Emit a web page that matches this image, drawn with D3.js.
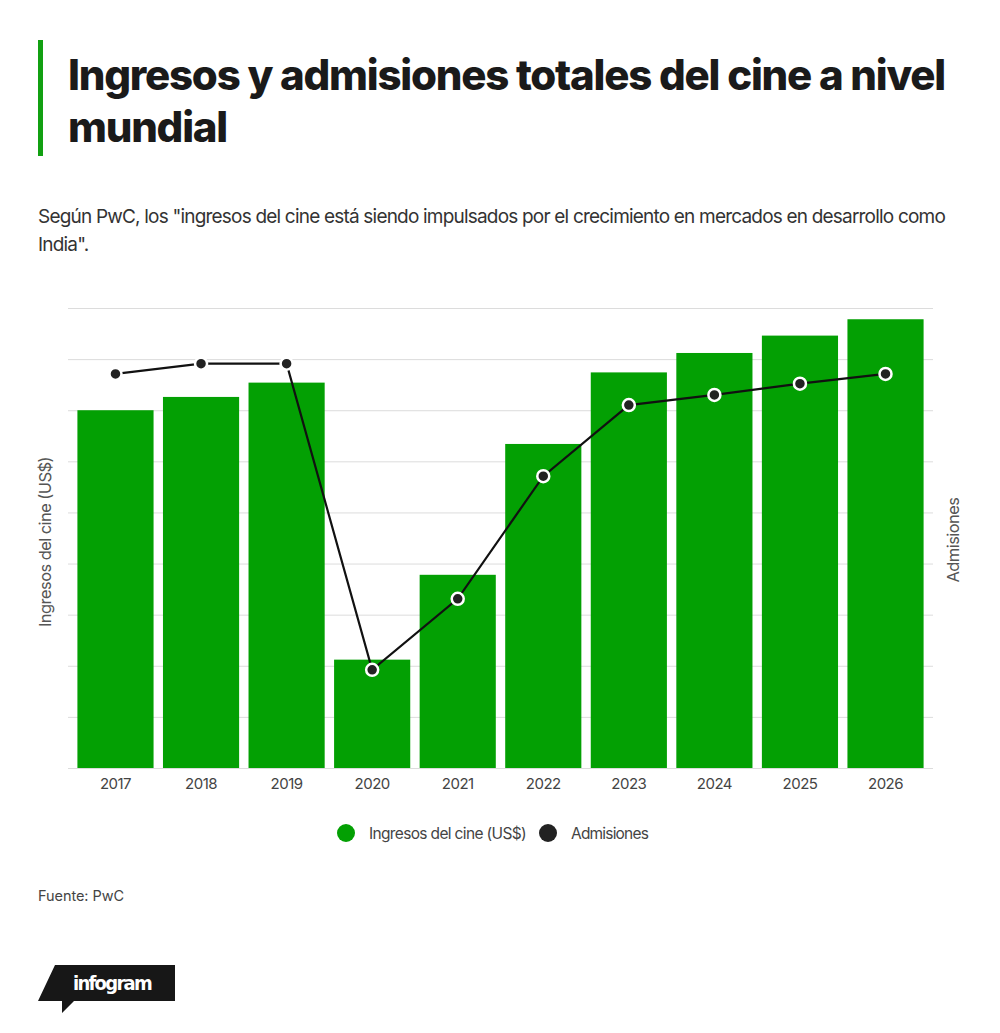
<!DOCTYPE html>
<html>
<head>
<meta charset="utf-8">
<script src="https://cdn.jsdelivr.net/npm/d3@7"></script>
<style>
  body { margin: 0; background: #fff; }
  svg { display: block; }
</style>
</head>
<body>
<script>
// chart data
const years = ["2017", "2018", "2019", "2020", "2021", "2022", "2023", "2024", "2025", "2026"];
const ingresos = [35.0, 36.3, 37.7, 10.6, 18.9, 31.7, 38.7, 40.6, 42.3, 43.9];
const admisiones = [7.71, 7.91, 7.91, 1.92, 3.31, 5.71, 7.10, 7.30, 7.52, 7.71];
const leftTicks = [0, 5, 10, 15, 20, 25, 30, 35, 40, 45];

const title = ["Ingresos y admisiones totales del cine a nivel", "mundial"];
const subtitle = ["Según PwC, los \"ingresos del cine está siendo impulsados por el crecimiento en mercados en desarrollo como", "India\"."];
const legendItems = ["Ingresos del cine (US$)", "Admisiones"];

const width = 1000, height = 1033;
const green = "#03a003", dark = "#222";
const font = "Inter, 'Noto Sans', sans-serif";

const svg = d3.select("body").append("svg")
    .attr("width", width)
    .attr("height", height)
    .attr("viewBox", [0, 0, width, height]);

// squeeze or widen a text to a target width with letter-spacing
function fit(sel, target) {
    let ls = 0;
    sel.each(function() {
        const w = this.getComputedTextLength();
        const n = this.textContent.length;
        ls = (target - w) / n;
        d3.select(this).attr("letter-spacing", ls);
    });
    return ls;
}

// header
svg.append("rect")
    .attr("x", 38).attr("y", 40)
    .attr("width", 5).attr("height", 116)
    .attr("fill", "#11a011");

const titleText = svg.append("g")
    .selectAll("text")
    .data(title)
    .join("text")
    .attr("x", 68)
    .attr("y", (d, i) => 90 + i * 52)
    .attr("font-family", font)
    .attr("font-weight", 800)
    .attr("font-size", 42)
    .attr("fill", "#1a1a1a")
    .text(d => d);
const titleLs = fit(titleText.filter((d, i) => i === 0), 877);
titleText.filter((d, i) => i === 1).attr("letter-spacing", titleLs);

const subText = svg.append("g")
    .selectAll("text")
    .data(subtitle)
    .join("text")
    .attr("x", 38)
    .attr("y", (d, i) => 223 + i * 28)
    .attr("font-family", font)
    .attr("font-size", 19)
    .attr("fill", "#333")
    .text(d => d);
const subLs = fit(subText.filter((d, i) => i === 0), 907);
subText.filter((d, i) => i === 1).attr("letter-spacing", subLs);

// scales
const x = d3.scaleBand()
    .domain(years)
    .range([68, 933])
    .padding(0.11);

const y = d3.scaleLinear()
    .domain([0, 45])
    .range([768, 308]);

const y2 = d3.scaleLinear()
    .domain([0, 9])
    .range([768, 308]);

// gridlines from the left axis, labels hidden
svg.append("g")
    .attr("transform", "translate(68,0)")
    .call(d3.axisLeft(y).tickValues(leftTicks).tickSize(-865).tickFormat(""))
    .call(g => g.select(".domain").remove())
    .call(g => g.selectAll(".tick line").attr("stroke", "#dcdcdc"));

// bars
svg.append("g")
    .attr("fill", green)
    .selectAll("rect")
    .data(years)
    .join("rect")
    .attr("x", d => x(d))
    .attr("y", (d, i) => y(ingresos[i]))
    .attr("width", x.bandwidth())
    .attr("height", (d, i) => y(0) - y(ingresos[i]));

// x axis
svg.append("g")
    .attr("transform", "translate(0,768)")
    .call(d3.axisBottom(x).tickSize(0).tickPadding(10))
    .call(g => g.select(".domain").remove())
    .call(g => g.selectAll("text")
        .attr("font-family", font)
        .attr("font-size", 15)
        .attr("letter-spacing", -0.5)
        .attr("fill", "#444")
        .attr("dy", "0.71em"));

// admissions line
const line = d3.line()
    .x((d, i) => x(years[i]) + x.bandwidth() / 2)
    .y(d => y2(d));

svg.append("path")
    .datum(admisiones)
    .attr("fill", "none")
    .attr("stroke", "#111")
    .attr("stroke-width", 2.2)
    .attr("d", line);

svg.append("g")
    .selectAll("circle")
    .data(admisiones)
    .join("circle")
    .attr("cx", (d, i) => x(years[i]) + x.bandwidth() / 2)
    .attr("cy", d => y2(d))
    .attr("r", 6)
    .attr("fill", dark)
    .attr("stroke", "#fff")
    .attr("stroke-width", 2.5);

// axis titles
svg.append("text")
    .attr("transform", "translate(51,542) rotate(-90)")
    .attr("text-anchor", "middle")
    .attr("font-family", font)
    .attr("font-size", 16.5)
    .attr("fill", "#555")
    .text(legendItems[0])
    .call(s => fit(s, 170));

svg.append("text")
    .attr("transform", "translate(959,540) rotate(-90)")
    .attr("text-anchor", "middle")
    .attr("font-family", font)
    .attr("font-size", 16.5)
    .attr("fill", "#555")
    .text(legendItems[1])
    .call(s => fit(s, 85));

// legend
const legendX = [346, 548];
const legendW = [157, 77];
const legend = svg.append("g")
    .selectAll("g")
    .data(legendItems)
    .join("g")
    .attr("transform", (d, i) => `translate(${legendX[i]},833)`);

legend.append("circle")
    .attr("r", 9)
    .attr("fill", (d, i) => i === 0 ? green : dark);

legend.append("text")
    .attr("x", 23)
    .attr("y", 5.5)
    .attr("font-family", font)
    .attr("font-size", 15.5)
    .attr("fill", "#444")
    .text(d => d)
    .each(function(d, i) { fit(d3.select(this), legendW[i]); });

// source
svg.append("text")
    .attr("x", 38)
    .attr("y", 901)
    .attr("font-family", font)
    .attr("font-size", 14.5)
    .attr("fill", "#444")
    .text("Fuente: PwC")
    .call(s => fit(s, 86));

// infogram badge
svg.append("path")
    .attr("d", "M55,965 L175,965 L175,1001 L74,1001 L62,1013 L62,1001 L38,1001 Z")
    .attr("fill", "#171717");

svg.append("text")
    .attr("x", 73)
    .attr("y", 990)
    .attr("font-family", "'DejaVu Sans Condensed', 'DejaVu Sans', sans-serif")
    .attr("font-weight", 700)
    .attr("font-size", 20)
    .attr("fill", "#fff")
    .text("infogram")
    .call(s => fit(s, 78));
</script>
</body>
</html>
